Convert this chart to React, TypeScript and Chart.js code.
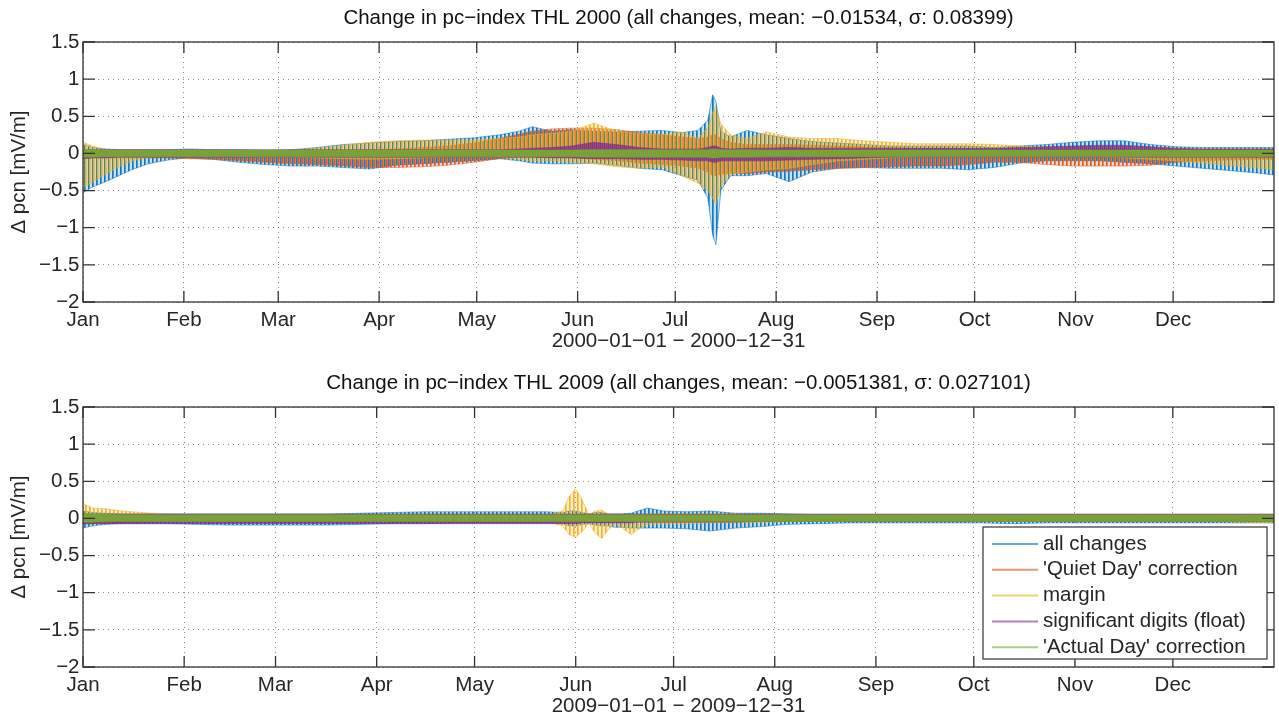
import React, { useEffect, useRef } from 'react';
import { Chart, registerables } from 'chart.js';

Chart.register(...registerables);

// ---------- labels ----------
const monthLabels = ['Jan', 'Feb', 'Mar', 'Apr', 'May', 'Jun', 'Jul', 'Aug', 'Sep', 'Oct', 'Nov', 'Dec'];
const monthStarts2000 = [0, 31, 60, 91, 121, 152, 182, 213, 244, 274, 305, 335];
const monthStarts2009 = [0, 31, 59, 90, 120, 151, 181, 212, 243, 273, 304, 334];
const seriesNames = ['all changes', "'Quiet Day' correction", 'margin', 'significant digits (float)', "'Actual Day' correction"];
const title2000 = 'Change in pc\u2212index THL 2000 (all changes, mean: \u22120.01534, \u03c3: 0.08399)';
const title2009 = 'Change in pc\u2212index THL 2009 (all changes, mean: \u22120.0051381, \u03c3: 0.027101)';
const range2000 = '2000\u221201\u221201 \u2212 2000\u221212\u221231';
const range2009 = '2009\u221201\u221201 \u2212 2009\u221212\u221231';
const yAxisLabel = '\u0394 pcn [mV/m]';

// ---------- 2000: envelope (upper / lower extent) of the daily oscillation, by day of year ----------
const days2000 = [0, 3, 7, 11, 15, 20, 26, 32, 40, 48, 56, 64, 72, 80, 88, 96, 104, 112, 120, 128, 134, 138, 144, 150, 157, 164, 171, 178, 184, 189, 192, 193.5, 194.5, 196, 199, 204, 210, 217, 224, 232, 240, 248, 256, 264, 272, 280, 288, 296, 304, 312, 320, 328, 336, 344, 352, 360, 366];

const allHi2000 = [0.12, 0.08, 0.06, 0.05, 0.05, 0.05, 0.05, 0.06, 0.05, 0.05, 0.04, 0.05, 0.08, 0.12, 0.14, 0.16, 0.17, 0.19, 0.21, 0.25, 0.30, 0.36, 0.30, 0.32, 0.30, 0.29, 0.30, 0.31, 0.28, 0.31, 0.45, 0.79, 0.70, 0.30, 0.22, 0.31, 0.25, 0.20, 0.16, 0.14, 0.12, 0.10, 0.10, 0.10, 0.10, 0.08, 0.10, 0.12, 0.15, 0.17, 0.17, 0.12, 0.09, 0.08, 0.08, 0.08, 0.08];
const allLo2000 = [-0.53, -0.45, -0.38, -0.30, -0.22, -0.14, -0.09, -0.06, -0.08, -0.12, -0.15, -0.17, -0.17, -0.19, -0.21, -0.16, -0.14, -0.12, -0.10, -0.07, -0.10, -0.13, -0.14, -0.14, -0.13, -0.16, -0.20, -0.22, -0.30, -0.36, -0.60, -1.10, -1.23, -0.50, -0.30, -0.30, -0.27, -0.38, -0.25, -0.20, -0.19, -0.20, -0.20, -0.20, -0.22, -0.19, -0.13, -0.10, -0.10, -0.10, -0.12, -0.14, -0.17, -0.20, -0.23, -0.26, -0.29];

const quietHi2000 = [0.02, 0.02, 0.02, 0.02, 0.02, 0.02, 0.02, 0.02, 0.02, 0.02, 0.02, 0.02, 0.03, 0.04, 0.05, 0.06, 0.08, 0.10, 0.14, 0.20, 0.26, 0.30, 0.33, 0.34, 0.34, 0.32, 0.28, 0.25, 0.22, 0.20, 0.22, 0.25, 0.25, 0.20, 0.15, 0.12, 0.12, 0.12, 0.11, 0.10, 0.09, 0.08, 0.07, 0.07, 0.06, 0.06, 0.06, 0.06, 0.06, 0.06, 0.06, 0.05, 0.05, 0.05, 0.05, 0.05, 0.05];
const quietLo2000 = [-0.06, -0.06, -0.06, -0.06, -0.06, -0.06, -0.06, -0.07, -0.08, -0.10, -0.12, -0.14, -0.15, -0.17, -0.19, -0.19, -0.18, -0.16, -0.12, -0.07, -0.05, -0.05, -0.05, -0.06, -0.08, -0.10, -0.13, -0.15, -0.17, -0.20, -0.25, -0.30, -0.30, -0.28, -0.27, -0.27, -0.25, -0.24, -0.22, -0.20, -0.19, -0.18, -0.17, -0.17, -0.15, -0.12, -0.12, -0.15, -0.17, -0.17, -0.17, -0.16, -0.12, -0.10, -0.09, -0.08, -0.08];

const marginHi2000 = [0.15, 0.10, 0.05, 0.04, 0.04, 0.04, 0.04, 0.05, 0.04, 0.04, 0.04, 0.04, 0.07, 0.11, 0.15, 0.17, 0.18, 0.18, 0.18, 0.20, 0.22, 0.25, 0.27, 0.30, 0.41, 0.30, 0.27, 0.25, 0.29, 0.20, 0.35, 0.55, 0.63, 0.40, 0.25, 0.20, 0.29, 0.22, 0.20, 0.20, 0.17, 0.15, 0.13, 0.13, 0.13, 0.12, 0.10, 0.08, 0.08, 0.08, 0.08, 0.08, 0.07, 0.06, 0.06, 0.06, 0.06];
const marginLo2000 = [-0.47, -0.38, -0.28, -0.18, -0.10, -0.05, -0.04, -0.04, -0.04, -0.04, -0.05, -0.05, -0.06, -0.07, -0.08, -0.07, -0.06, -0.05, -0.05, -0.05, -0.08, -0.10, -0.10, -0.12, -0.14, -0.18, -0.20, -0.18, -0.30, -0.40, -0.50, -0.60, -0.69, -0.45, -0.28, -0.25, -0.22, -0.20, -0.15, -0.10, -0.08, -0.06, -0.05, -0.05, -0.05, -0.05, -0.05, -0.05, -0.05, -0.05, -0.06, -0.08, -0.10, -0.13, -0.16, -0.19, -0.22];

const digitsHi2000 = [0.05, 0.05, 0.05, 0.05, 0.05, 0.05, 0.05, 0.05, 0.05, 0.05, 0.05, 0.05, 0.05, 0.05, 0.05, 0.05, 0.05, 0.05, 0.05, 0.05, 0.06, 0.07, 0.08, 0.10, 0.15, 0.12, 0.08, 0.06, 0.06, 0.06, 0.08, 0.10, 0.10, 0.07, 0.06, 0.07, 0.07, 0.08, 0.07, 0.07, 0.07, 0.07, 0.07, 0.07, 0.07, 0.07, 0.08, 0.09, 0.10, 0.11, 0.11, 0.09, 0.07, 0.06, 0.06, 0.06, 0.06];
const digitsLo2000 = [-0.07, -0.06, -0.06, -0.05, -0.05, -0.05, -0.05, -0.05, -0.05, -0.05, -0.05, -0.05, -0.05, -0.05, -0.05, -0.05, -0.05, -0.05, -0.05, -0.05, -0.05, -0.05, -0.06, -0.06, -0.07, -0.07, -0.08, -0.08, -0.09, -0.10, -0.10, -0.12, -0.12, -0.10, -0.10, -0.10, -0.10, -0.09, -0.08, -0.07, -0.06, -0.05, -0.05, -0.05, -0.05, -0.05, -0.05, -0.05, -0.05, -0.05, -0.05, -0.05, -0.05, -0.05, -0.05, -0.05, -0.05];

const actualHi2000 = [0.05, 0.05, 0.045, 0.045, 0.045, 0.045, 0.045, 0.045, 0.045, 0.045, 0.045, 0.045, 0.045, 0.045, 0.045, 0.045, 0.045, 0.045, 0.045, 0.045, 0.045, 0.045, 0.045, 0.045, 0.05, 0.05, 0.05, 0.05, 0.05, 0.05, 0.05, 0.06, 0.06, 0.05, 0.05, 0.05, 0.045, 0.045, 0.045, 0.045, 0.045, 0.045, 0.045, 0.045, 0.045, 0.045, 0.045, 0.045, 0.045, 0.045, 0.045, 0.045, 0.045, 0.045, 0.045, 0.045, 0.045];
const actualLo2000 = [-0.05, -0.05, -0.045, -0.045, -0.045, -0.045, -0.045, -0.045, -0.045, -0.045, -0.045, -0.045, -0.045, -0.045, -0.045, -0.045, -0.045, -0.045, -0.045, -0.045, -0.045, -0.045, -0.045, -0.045, -0.05, -0.05, -0.05, -0.05, -0.05, -0.05, -0.05, -0.06, -0.06, -0.05, -0.05, -0.05, -0.045, -0.045, -0.045, -0.045, -0.045, -0.045, -0.045, -0.045, -0.045, -0.045, -0.045, -0.045, -0.045, -0.045, -0.045, -0.045, -0.045, -0.045, -0.045, -0.045, -0.045];

// ---------- 2009 ----------
const days2009 = [0, 3, 7, 12, 18, 25, 35, 45, 55, 65, 75, 85, 95, 105, 115, 125, 135, 142, 147, 149, 151, 153, 155, 157, 159, 161, 163, 165, 168, 170, 173, 178, 185, 192, 200, 208, 216, 225, 235, 245, 255, 265, 275, 285, 295, 305, 315, 325, 335, 345, 355, 365];

const allHi2009 = [0.10, 0.08, 0.07, 0.06, 0.06, 0.06, 0.06, 0.06, 0.06, 0.06, 0.06, 0.07, 0.08, 0.09, 0.09, 0.09, 0.09, 0.09, 0.08, 0.10, 0.10, 0.08, 0.06, 0.08, 0.08, 0.06, 0.06, 0.06, 0.07, 0.10, 0.14, 0.10, 0.09, 0.10, 0.07, 0.07, 0.06, 0.05, 0.05, 0.05, 0.05, 0.05, 0.05, 0.05, 0.05, 0.05, 0.05, 0.05, 0.05, 0.05, 0.05, 0.05];
const allLo2009 = [-0.13, -0.10, -0.08, -0.07, -0.07, -0.07, -0.08, -0.09, -0.09, -0.09, -0.09, -0.08, -0.07, -0.07, -0.06, -0.06, -0.06, -0.06, -0.07, -0.10, -0.10, -0.08, -0.07, -0.09, -0.10, -0.10, -0.12, -0.12, -0.13, -0.13, -0.13, -0.13, -0.14, -0.17, -0.13, -0.11, -0.08, -0.07, -0.06, -0.06, -0.06, -0.06, -0.06, -0.07, -0.06, -0.06, -0.06, -0.06, -0.06, -0.06, -0.06, -0.06];

const quietHi2009 = [0.05, 0.05, 0.04, 0.04, 0.03, 0.03, 0.03, 0.03, 0.03, 0.03, 0.03, 0.03, 0.03, 0.03, 0.03, 0.03, 0.03, 0.03, 0.03, 0.03, 0.03, 0.03, 0.03, 0.03, 0.03, 0.03, 0.03, 0.03, 0.03, 0.03, 0.03, 0.03, 0.03, 0.03, 0.03, 0.03, 0.03, 0.03, 0.03, 0.03, 0.03, 0.03, 0.03, 0.03, 0.03, 0.03, 0.03, 0.03, 0.03, 0.03, 0.03, 0.03];
const quietLo2009 = [-0.08, -0.07, -0.07, -0.06, -0.05, -0.04, -0.04, -0.04, -0.04, -0.04, -0.04, -0.04, -0.04, -0.04, -0.04, -0.04, -0.04, -0.04, -0.04, -0.04, -0.04, -0.04, -0.04, -0.04, -0.04, -0.04, -0.04, -0.04, -0.04, -0.04, -0.04, -0.04, -0.04, -0.04, -0.04, -0.04, -0.04, -0.04, -0.04, -0.04, -0.04, -0.04, -0.04, -0.04, -0.04, -0.04, -0.04, -0.04, -0.04, -0.04, -0.04, -0.04];

const marginHi2009 = [0.20, 0.14, 0.13, 0.10, 0.08, 0.06, 0.05, 0.04, 0.04, 0.04, 0.04, 0.04, 0.04, 0.04, 0.04, 0.04, 0.04, 0.04, 0.10, 0.30, 0.40, 0.25, 0.05, 0.10, 0.11, 0.06, 0.05, 0.04, 0.04, 0.05, 0.06, 0.06, 0.06, 0.06, 0.06, 0.05, 0.04, 0.04, 0.04, 0.04, 0.04, 0.04, 0.04, 0.04, 0.04, 0.04, 0.04, 0.04, 0.04, 0.04, 0.05, 0.05];
const marginLo2009 = [-0.05, -0.05, -0.05, -0.04, -0.04, -0.04, -0.04, -0.04, -0.04, -0.04, -0.04, -0.04, -0.04, -0.04, -0.04, -0.04, -0.04, -0.04, -0.10, -0.22, -0.25, -0.18, -0.06, -0.20, -0.27, -0.15, -0.08, -0.12, -0.22, -0.15, -0.08, -0.07, -0.07, -0.06, -0.06, -0.05, -0.04, -0.04, -0.04, -0.04, -0.04, -0.04, -0.04, -0.04, -0.04, -0.04, -0.04, -0.04, -0.04, -0.04, -0.05, -0.06];

const digitsHi2009 = [0.06, 0.06, 0.06, 0.06, 0.06, 0.06, 0.06, 0.06, 0.06, 0.06, 0.06, 0.06, 0.06, 0.06, 0.06, 0.06, 0.06, 0.06, 0.06, 0.06, 0.06, 0.06, 0.06, 0.06, 0.06, 0.06, 0.06, 0.06, 0.06, 0.06, 0.06, 0.06, 0.06, 0.06, 0.06, 0.06, 0.06, 0.06, 0.06, 0.06, 0.06, 0.06, 0.06, 0.06, 0.06, 0.06, 0.06, 0.06, 0.06, 0.06, 0.06, 0.06];
const digitsLo2009 = [-0.07, -0.07, -0.07, -0.07, -0.07, -0.07, -0.07, -0.07, -0.07, -0.07, -0.07, -0.07, -0.07, -0.07, -0.07, -0.07, -0.07, -0.07, -0.07, -0.07, -0.07, -0.06, -0.06, -0.06, -0.06, -0.06, -0.06, -0.06, -0.06, -0.05, -0.05, -0.05, -0.05, -0.05, -0.05, -0.04, -0.04, -0.04, -0.04, -0.04, -0.04, -0.04, -0.04, -0.04, -0.04, -0.04, -0.04, -0.04, -0.04, -0.04, -0.04, -0.04];

const actualHi2009 = [0.07, 0.06, 0.06, 0.05, 0.05, 0.05, 0.05, 0.05, 0.05, 0.05, 0.05, 0.05, 0.05, 0.05, 0.05, 0.05, 0.05, 0.05, 0.05, 0.05, 0.05, 0.05, 0.05, 0.05, 0.05, 0.05, 0.05, 0.05, 0.05, 0.05, 0.05, 0.05, 0.05, 0.05, 0.05, 0.05, 0.05, 0.05, 0.05, 0.05, 0.05, 0.05, 0.05, 0.05, 0.05, 0.05, 0.05, 0.05, 0.05, 0.05, 0.05, 0.05];
const actualLo2009 = [-0.05, -0.05, -0.04, -0.04, -0.04, -0.04, -0.04, -0.04, -0.04, -0.04, -0.04, -0.04, -0.04, -0.04, -0.04, -0.04, -0.04, -0.04, -0.04, -0.04, -0.04, -0.04, -0.04, -0.04, -0.04, -0.04, -0.04, -0.04, -0.04, -0.04, -0.04, -0.04, -0.04, -0.04, -0.04, -0.04, -0.04, -0.04, -0.04, -0.04, -0.04, -0.04, -0.04, -0.04, -0.04, -0.04, -0.04, -0.04, -0.04, -0.04, -0.04, -0.04];

// ---------- styling ----------
const FONT_FAMILY = '"Liberation Sans", Arial, Helvetica, sans-serif';
const FONT_SIZE = 20.5;
const TEXT_COLOR = '#262626';
const SERIES_RGB = ['0,114,189', '217,83,25', '237,177,32', '126,47,142', '119,172,48'];
// per-series stripe texture (column opacities of a 4px repeating pattern, mimicking the dense daily strokes)
const SERIES_STRIPES = [
  [0.95, 0.7, 0.22, 0.22],
  [0.22, 0.22, 0.95, 0.7],
  [0.22, 0.95, 0.7, 0.22],
  [0.9, 0.75, 0.9, 0.75],
  [0.95, 0.85, 0.95, 0.85],
];

Chart.defaults.font.family = FONT_FAMILY;
Chart.defaults.font.size = FONT_SIZE;
Chart.defaults.color = TEXT_COLOR;

type Series = { name: string; hi: number[]; lo: number[] };

function stripePattern(rgb: string, cols: number[]) {
  const c = document.createElement('canvas');
  c.width = cols.length;
  c.height = 1;
  const g = c.getContext('2d')!;
  cols.forEach((a, i) => {
    g.fillStyle = `rgba(${rgb},${a})`;
    g.fillRect(i, 0, 1, 1);
  });
  return g.createPattern(c, 'repeat')!;
}

function buildDatasets(days: number[], series: Series[]) {
  const ds: any[] = [];
  series.forEach((s, k) => {
    const rgb = SERIES_RGB[k];
    const edge = `rgba(${rgb},0.5)`;
    ds.push({
      label: s.name + ' lower',
      data: days.map((d, i) => ({ x: d, y: s.lo[i] })),
      borderColor: edge,
      borderWidth: 1,
      pointRadius: 0,
      fill: false,
      order: 5 - k,
    });
    ds.push({
      label: s.name,
      data: days.map((d, i) => ({ x: d, y: s.hi[i] })),
      borderColor: edge,
      borderWidth: 1,
      pointRadius: 0,
      fill: '-1',
      backgroundColor: stripePattern(rgb, SERIES_STRIPES[k]),
      order: 5 - k,
    });
  });
  return ds;
}

function fmtY(v: number) {
  const r = Math.round(v * 10) / 10;
  return r < 0 ? '\u2212' + String(-r) : String(r);
}

type Props = {
  title: string;
  range: string;
  days: number[];
  series: Series[];
  monthStarts: number[];
  xMax: number;
  showLegend: boolean;
};

function PcnChart({ title, range, days, series, monthStarts, xMax, showLegend }: Props) {
  const ref = useRef<HTMLCanvasElement | null>(null);

  useEffect(() => {
    if (!ref.current) return;
    const framePlugin = {
      id: 'matlabFrame',
      afterDatasetsDraw(chart: any) {
        const { ctx, chartArea: a, scales } = chart;
        const xs = scales.x;
        const ys = scales.y;
        ctx.save();
        ctx.strokeStyle = '#333333';
        ctx.lineWidth = 1.3;
        ctx.beginPath();
        xs.ticks.forEach((t: any) => {
          const px = xs.getPixelForValue(t.value);
          ctx.moveTo(px, a.bottom);
          ctx.lineTo(px, a.bottom - 11);
          ctx.moveTo(px, a.top);
          ctx.lineTo(px, a.top + 11);
        });
        ys.ticks.forEach((t: any) => {
          const py = ys.getPixelForValue(t.value);
          ctx.moveTo(a.left, py);
          ctx.lineTo(a.left + 12, py);
          ctx.moveTo(a.right, py);
          ctx.lineTo(a.right - 12, py);
        });
        ctx.stroke();
        ctx.strokeRect(a.left, a.top, a.right - a.left, a.bottom - a.top);
        ctx.restore();
      },
      afterDraw(chart: any) {
        if (!showLegend) return;
        const { ctx, chartArea: a } = chart;
        const w = 284;
        const h = 132;
        const x0 = a.right - 7 - w;
        const y0 = a.bottom - 8 - h;
        ctx.save();
        ctx.fillStyle = '#ffffff';
        ctx.fillRect(x0, y0, w, h);
        ctx.strokeStyle = '#333333';
        ctx.lineWidth = 1.2;
        ctx.strokeRect(x0, y0, w, h);
        ctx.font = `${FONT_SIZE}px ${FONT_FAMILY}`;
        ctx.textBaseline = 'middle';
        ctx.textAlign = 'left';
        series.forEach((s, k) => {
          const cy = y0 + 17 + k * 25.8;
          ctx.strokeStyle = `rgba(${SERIES_RGB[k]},0.6)`;
          ctx.lineWidth = 2;
          ctx.beginPath();
          ctx.moveTo(x0 + 9, cy);
          ctx.lineTo(x0 + 55, cy);
          ctx.stroke();
          ctx.fillStyle = TEXT_COLOR;
          ctx.fillText(s.name, x0 + 60, cy);
        });
        ctx.restore();
      },
    };

    const chart = new Chart(ref.current, {
      type: 'line',
      data: { datasets: buildDatasets(days, series) },
      options: {
        responsive: false,
        animation: false,
        devicePixelRatio: 1,
        parsing: false as any,
        layout: { padding: { left: 0, right: 5, top: 0, bottom: 0 } },
        elements: { line: { tension: 0 } },
        plugins: {
          legend: { display: false },
          tooltip: { enabled: false },
          title: {
            display: true,
            fullSize: false,
            text: title,
            color: '#111111',
            font: { size: FONT_SIZE, weight: 'normal' as any, family: FONT_FAMILY },
            padding: { top: 5.7, bottom: 11.7 },
          },
        },
        scales: {
          x: {
            type: 'linear',
            min: 0,
            max: xMax,
            afterBuildTicks: (axis: any) => {
              axis.ticks = monthStarts.map((v) => ({ value: v }));
            },
            afterFit: (axis: any) => {
              axis.height = 58;
            },
            ticks: {
              autoSkip: false,
              maxRotation: 0,
              minRotation: 0,
              padding: 6,
              color: TEXT_COLOR,
              callback: (_v: any, i: number) => monthLabels[i],
            },
            grid: { color: 'rgba(40,40,40,0.55)', lineWidth: 1, drawTicks: false },
            border: { display: false, dash: [1, 4] },
            title: {
              display: true,
              text: range,
              color: TEXT_COLOR,
              padding: { top: 0, bottom: 6.7 },
            },
          },
          y: {
            type: 'linear',
            min: -2,
            max: 1.5,
            afterFit: (axis: any) => {
              axis.width = 83;
            },
            ticks: { stepSize: 0.5, padding: 3.5, color: TEXT_COLOR, callback: (v: any) => fmtY(Number(v)) },
            grid: { color: 'rgba(40,40,40,0.55)', lineWidth: 1, drawTicks: false },
            border: { display: false, dash: [1, 4] },
            title: {
              display: true,
              text: yAxisLabel,
              color: TEXT_COLOR,
              padding: { top: 7.5, bottom: 0 },
            },
          },
        },
      } as any,
      plugins: [framePlugin],
    });
    return () => chart.destroy();
  }, []);

  return <canvas ref={ref} width={1279} height={360} style={{ display: 'block', width: 1279, height: 360 }} />;
}

export default function App() {
  const series2000: Series[] = [
    { name: seriesNames[0], hi: allHi2000, lo: allLo2000 },
    { name: seriesNames[1], hi: quietHi2000, lo: quietLo2000 },
    { name: seriesNames[2], hi: marginHi2000, lo: marginLo2000 },
    { name: seriesNames[3], hi: digitsHi2000, lo: digitsLo2000 },
    { name: seriesNames[4], hi: actualHi2000, lo: actualLo2000 },
  ];
  const series2009: Series[] = [
    { name: seriesNames[0], hi: allHi2009, lo: allLo2009 },
    { name: seriesNames[1], hi: quietHi2009, lo: quietLo2009 },
    { name: seriesNames[2], hi: marginHi2009, lo: marginLo2009 },
    { name: seriesNames[3], hi: digitsHi2009, lo: digitsLo2009 },
    { name: seriesNames[4], hi: actualHi2009, lo: actualLo2009 },
  ];
  return (
    <div style={{ position: 'absolute', left: 0, top: 0, width: 1279, height: 725, overflow: 'hidden', background: '#ffffff' }}>
      <div style={{ position: 'absolute', left: 0, top: 0 }}>
        <PcnChart title={title2000} range={range2000} days={days2000} series={series2000} monthStarts={monthStarts2000} xMax={366} showLegend={false} />
      </div>
      <div style={{ position: 'absolute', left: 0, top: 365 }}>
        <PcnChart title={title2009} range={range2009} days={days2009} series={series2009} monthStarts={monthStarts2009} xMax={365} showLegend={true} />
      </div>
    </div>
  );
}
